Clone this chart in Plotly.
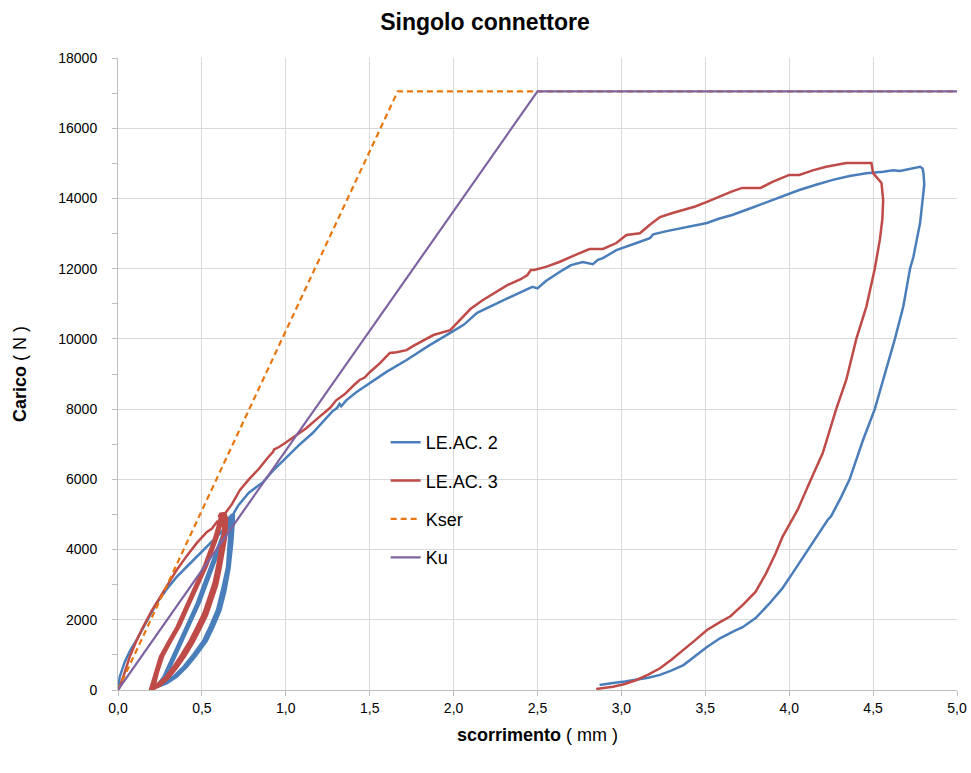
import plotly.graph_objects as go

# ---------------- data ----------------
# LE.AC. 2 (blue): slip [mm], load [N]
leac2_x = [0, 0.01, 0.04, 0.07, 0.11, 0.17, 0.23, 0.29, 0.35, 0.42, 0.49, 0.55, 0.61, 0.65, 0.67, 0.68,
           0.67, 0.66, 0.65, 0.62, 0.59, 0.55, 0.51, 0.45, 0.39, 0.33, 0.27, 0.23,
           0.25, 0.27, 0.32, 0.37, 0.42, 0.47, 0.51, 0.55, 0.59, 0.63, 0.66, 0.68,
           0.68, 0.67, 0.655, 0.63, 0.60, 0.56, 0.52, 0.46, 0.40, 0.34, 0.28, 0.235,
           0.26, 0.28, 0.33, 0.38, 0.43, 0.48, 0.52, 0.56, 0.60, 0.64, 0.67, 0.69,
           0.69, 0.68, 0.665, 0.64, 0.61, 0.57, 0.53, 0.47, 0.41, 0.35, 0.29, 0.24,
           0.27, 0.29, 0.34, 0.39, 0.44, 0.49, 0.53, 0.57, 0.61, 0.65, 0.68, 0.69,
           0.72, 0.78, 0.864, 0.93, 1.007, 1.08, 1.16, 1.23, 1.28, 1.305, 1.32, 1.33, 1.36, 1.42, 1.5,
           1.6, 1.72, 1.85, 1.98, 2.06, 2.14, 2.25, 2.35, 2.44, 2.47, 2.5, 2.55, 2.65, 2.7, 2.77, 2.8,
           2.83, 2.86, 2.89, 2.97, 3.03, 3.09, 3.17, 3.19, 3.27, 3.37, 3.44, 3.51, 3.58, 3.66, 3.77,
           3.87, 3.96, 4.06, 4.16, 4.26, 4.36, 4.46, 4.56, 4.62, 4.66, 4.72, 4.78, 4.795,
           4.80, 4.805, 4.80, 4.79, 4.78, 4.76, 4.74, 4.72, 4.68, 4.63, 4.57, 4.51, 4.44, 4.36, 4.31,
           4.26, 4.25, 4.23, 4.16, 4.10, 4.03, 3.96, 3.88, 3.80, 3.72, 3.68, 3.59, 3.51, 3.44, 3.37,
           3.30, 3.23, 3.16, 3.09, 3.02, 2.95, 2.90, 2.87]
leac2_y = [0, 370, 800, 1100, 1420, 1950, 2470, 2870, 3220, 3560, 3900, 4180, 4470, 4700, 4840, 5000,
           4800, 4200, 3500, 2850, 2280, 1830, 1420, 1020, 660, 380, 190, 100,
           250, 370, 900, 1420, 1950, 2470, 3000, 3500, 4030, 4560, 4900, 5000,
           4750, 4100, 3450, 2800, 2250, 1800, 1400, 1000, 650, 370, 180, 90,
           260, 400, 920, 1450, 1980, 2500, 3030, 3530, 4050, 4580, 4920, 5010,
           4780, 4150, 3480, 2820, 2260, 1810, 1410, 1010, 660, 380, 190, 100,
           280, 420, 940, 1460, 1990, 2520, 3040, 3550, 4060, 4600, 4950, 5040,
           5280, 5620, 5920, 6280, 6640, 6980, 7320, 7700, 7950, 8030, 8150, 8080, 8250, 8480, 8740,
           9060, 9400, 9800, 10170, 10400, 10740, 10980, 11220, 11420, 11480, 11440, 11650, 11960, 12100, 12190, 12170,
           12130, 12250, 12300, 12530, 12640, 12730, 12870, 12980, 13070, 13160, 13220, 13300, 13420, 13530, 13720,
           13900, 14060, 14240, 14390, 14530, 14640, 14720, 14760, 14800, 14780, 14850, 14900, 14850,
           14720, 14400, 14150, 13700, 13300, 12820, 12330, 12000, 10920, 10000, 9030, 8000, 7120, 6000, 5500,
           5040, 4950, 4850, 4330, 3900, 3400, 2900, 2450, 2050, 1780, 1700, 1480, 1225, 960, 710,
           560, 430, 350, 285, 240, 200, 170, 140]

# LE.AC. 3 (red)
leac3_x = [0, 0.01, 0.04, 0.07, 0.11, 0.15, 0.2, 0.25, 0.30, 0.35, 0.41, 0.47, 0.53, 0.56, 0.59, 0.60, 0.61,
           0.63, 0.625, 0.61, 0.59, 0.57, 0.54, 0.51, 0.47, 0.43, 0.38, 0.33, 0.28, 0.23, 0.19,
           0.20, 0.22, 0.25, 0.30, 0.35, 0.39, 0.43, 0.47, 0.51, 0.54, 0.57, 0.59, 0.61, 0.63,
           0.64, 0.635, 0.62, 0.60, 0.58, 0.55, 0.52, 0.48, 0.44, 0.39, 0.34, 0.29, 0.24, 0.20,
           0.21, 0.23, 0.26, 0.31, 0.36, 0.40, 0.44, 0.48, 0.52, 0.55, 0.58, 0.60, 0.62, 0.64,
           0.65, 0.645, 0.63, 0.61, 0.59, 0.56, 0.53, 0.49, 0.45, 0.40, 0.35, 0.30, 0.25, 0.21,
           0.22, 0.24, 0.27, 0.32, 0.37, 0.41, 0.45, 0.49, 0.53, 0.56, 0.59, 0.61, 0.62, 0.60, 0.63, 0.61, 0.64,
           0.68, 0.727, 0.78, 0.84, 0.89, 0.924, 0.93, 0.96, 1.0, 1.067, 1.12, 1.2, 1.263, 1.3, 1.35, 1.41,
           1.44, 1.47, 1.5, 1.56, 1.62, 1.66, 1.72, 1.76, 1.82, 1.88, 1.98, 2.04, 2.1, 2.175, 2.25, 2.32,
           2.4, 2.44, 2.46, 2.48, 2.55, 2.63, 2.72, 2.81, 2.89, 2.97, 3.03, 3.11, 3.17, 3.23, 3.3, 3.37,
           3.44, 3.51, 3.58, 3.66, 3.72, 3.83, 3.9, 4.0, 4.06, 4.14, 4.22, 4.34, 4.49,
           4.5, 4.55, 4.56, 4.555, 4.54, 4.51, 4.46, 4.40, 4.34, 4.28, 4.20, 4.13, 4.05, 3.96, 3.92,
           3.86, 3.80, 3.73, 3.65, 3.59, 3.51, 3.44, 3.37, 3.30, 3.23, 3.16, 3.09, 3.02, 2.95, 2.85]
leac3_y = [0, 80, 500, 950, 1400, 1800, 2250, 2650, 3050, 3420, 3820, 4190, 4500, 4600, 4790, 4700, 5040,
           4930, 4450, 3990, 3500, 3050, 2600, 2190, 1800, 1420, 1020, 660, 350, 140, 0,
           150, 500, 950, 1380, 1800, 2230, 2650, 3080, 3500, 3890, 4270, 4600, 4930, 5040,
           4900, 4400, 3950, 3450, 3000, 2550, 2150, 1760, 1380, 990, 640, 340, 130, 10,
           160, 520, 960, 1400, 1820, 2250, 2670, 3100, 3520, 3910, 4290, 4620, 4950, 5030,
           4880, 4380, 3920, 3430, 2980, 2530, 2130, 1740, 1360, 970, 630, 330, 120, 20,
           170, 540, 980, 1420, 1840, 2270, 2690, 3120, 3540, 3930, 4310, 4640, 4800, 4980, 4970, 5020, 5040,
           5300, 5700, 6000, 6300, 6600, 6780, 6850, 6920, 7050, 7260, 7450, 7780, 8030, 8250, 8420, 8700,
           8830, 8900, 9050, 9300, 9600, 9620, 9680, 9800, 9950, 10110, 10250, 10540, 10850, 11110, 11330, 11530,
           11700, 11820, 11960, 11960, 12050, 12190, 12380, 12560, 12560, 12730, 12960, 13010, 13250, 13470, 13580, 13670,
           13770, 13900, 14050, 14200, 14300, 14300, 14470, 14670, 14670, 14800, 14900, 15010, 15010,
           14720, 14440, 13950, 13400, 12820, 12000, 10920, 10000, 8830, 8000, 6750, 6000, 5130, 4360, 3900,
           3300, 2800, 2450, 2100, 1940, 1710, 1420, 1140, 870, 620, 440, 285, 170, 90, 30]

# Kser and Ku reference stiffness lines
kser_x = [0, 1.667, 5.0]
kser_y = [0, 17050, 17050]
ku_x = [0, 2.5, 5.0]
ku_y = [0, 17050, 17050]

# axis tick values
x_ticks = [0, 0.5, 1.0, 1.5, 2.0, 2.5, 3.0, 3.5, 4.0, 4.5, 5.0]
y_ticks = [0, 2000, 4000, 6000, 8000, 10000, 12000, 14000, 16000, 18000]

# ---------------- figure ----------------
BLUE = "#4A7EBB"
RED = "#BE4B48"
ORANGE = "#E8760F"
PURPLE = "#7F63A1"
FONT = "Liberation Sans"

fig = go.Figure()
fig.add_trace(go.Scatter(x=leac2_x, y=leac2_y, mode="lines", name="LE.AC. 2",
                         line=dict(color=BLUE, width=2.5), legendgroup="a"))
fig.add_trace(go.Scatter(x=leac3_x, y=leac3_y, mode="lines", name="LE.AC. 3",
                         line=dict(color=RED, width=2.5), legendgroup="b"))
fig.add_trace(go.Scatter(x=kser_x, y=kser_y, mode="lines", name="Kser",
                         line=dict(color=ORANGE, width=2.2, dash="6px,4px"), legendgroup="c"))
fig.add_trace(go.Scatter(x=ku_x, y=ku_y, mode="lines", name="Ku",
                         line=dict(color=PURPLE, width=2.2), legendgroup="d"))

FIG_W, FIG_H = 971, 773
fig.update_layout(
    width=FIG_W, height=FIG_H,
    margin=dict(l=118, r=14, t=58, b=83, autoexpand=False),
    paper_bgcolor="white", plot_bgcolor="white",
    separators=",.",
    font=dict(family=FONT, color="#000000", size=14),
    title=dict(text="<b>Singolo connettore</b>", x=485 / FIG_W, xref="container", xanchor="center",
               y=1 - 14 / FIG_H, yref="container", yanchor="top",
               font=dict(family=FONT, size=23, color="#000000")),
    legend=dict(x=0.319, y=0.421, xanchor="left", yanchor="top", bgcolor="rgba(0,0,0,0)",
                font=dict(family=FONT, size=18, color="#000000"),
                tracegroupgap=12, traceorder="grouped"),
    xaxis=dict(range=[0, 5.0], tickvals=x_ticks, tickformat=".1f", automargin=False,
               showgrid=True, gridcolor="#D9D9D9", gridwidth=1,
               showline=True, linecolor="#BFBFBF", linewidth=1,
               ticks="outside", ticklen=5, tickcolor="#BFBFBF",
               tickfont=dict(family=FONT, size=14, color="#000000"),
               zeroline=False,
               title=dict(text="<b>scorrimento</b> ( mm )", standoff=13,
                          font=dict(family=FONT, size=18, color="#000000"))),
    yaxis=dict(range=[0, 18000], tickvals=y_ticks, tickformat="d", automargin=False,
               showgrid=True, gridcolor="#D9D9D9", gridwidth=1,
               showline=True, linecolor="#BFBFBF", linewidth=1,
               ticks="outside", ticklen=5, tickcolor="#BFBFBF",
               ticklabelstandoff=12,
               minor=dict(dtick=1000, ticks="outside", ticklen=5, tickcolor="#BFBFBF", showgrid=False),
               tickfont=dict(family=FONT, size=14, color="#000000"),
               zeroline=False,
               title=dict(text="<b>Carico</b> ( N )", standoff=26,
                          font=dict(family=FONT, size=18, color="#000000"))),
)

# remove the browser's default 8px body margin so the figure fills the window exactly
fig.write_html("out.html", config={"displayModeBar": False},
               post_script="document.body.style.margin='0';document.body.style.overflow='hidden';")
